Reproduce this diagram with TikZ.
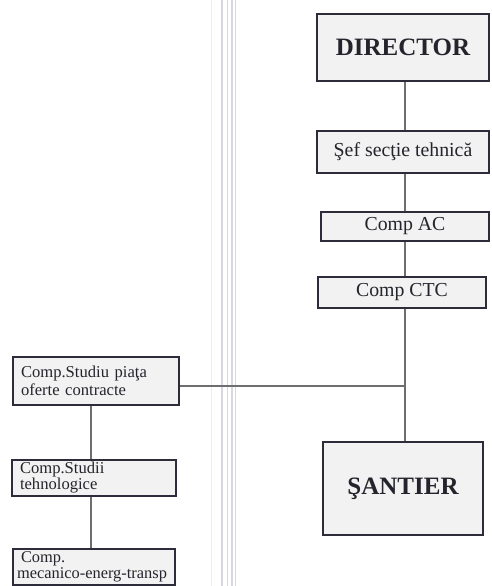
\documentclass[tikz,border=0pt]{standalone}
\usepackage{fontspec}
\setmainfont{Liberation Serif}
\definecolor{boxline}{RGB}{44,44,58}
\definecolor{boxfill}{RGB}{242,242,242}
\definecolor{conn}{RGB}{110,110,110}
\definecolor{ink}{RGB}{36,36,44}
\definecolor{gutter}{RGB}{216,216,224}
\definecolor{gutterlight}{RGB}{236,236,242}
\tikzset{
  orgbox/.style={draw=boxline, line width=2.8pt, fill=boxfill, text=ink, inner sep=0pt},
  bigbox/.style={orgbox, font=\fontsize{25}{27}\selectfont\bfseries},
  midbox/.style={orgbox, font=\fontsize{19.8}{21}\selectfont},
  leftbox/.style={orgbox, align=left, inner xsep=8pt, font=\fontsize{16.6}{18}\selectfont},
  link/.style={draw=conn, line width=1.4pt},
  gline/.style={draw=gutter, line width=1.6pt},
}
\begin{document}
\begin{tikzpicture}[x=1pt,y=-1pt]
\useasboundingbox (0,0) rectangle (491,586);
% book gutter lines of the scan
\draw[draw=gutterlight, line width=1pt] (211,0) -- (211,586);
\draw[gline] (222,0) -- (222,586);
\draw[gline] (227.5,0) -- (227.5,586);
\draw[gline] (232,0) -- (232,586);
\draw[gline] (235.5,0) -- (235.5,586);
% junction points
\coordinate (j) at (405,386);
\coordinate (k) at (91,386);
% right column
\node[bigbox, minimum width=172pt, minimum height=67pt] (dir) at (403,47.5) {DIRECTOR};
\node[midbox, minimum width=172pt, minimum height=42pt] (sef) at (403,152) {Şef secţie tehnică};
\node[midbox, minimum width=168pt, minimum height=29pt] (ac) at (405,226.5) {Comp AC};
\node[midbox, minimum width=168pt, minimum height=31pt] (ctc) at (402,292.5) {Comp CTC};
\node[bigbox, minimum width=160pt, minimum height=93pt] (sant) at (403,488.5) {ŞANTIER};
% left column
\node[leftbox, text width=150pt, minimum height=48pt] (b1) at (96,381)
  {Comp.Studiu piaţa\\oferte contracte};
\node[leftbox, text width=148pt, minimum height=36pt, font=\fontsize{16.6}{14}\selectfont] (b2) at (94,478)
  {Comp.Studii\\tehnologice};
\node[leftbox, inner xsep=4pt, text width=154pt, minimum height=36pt, font=\fontsize{16.4}{12.5}\selectfont] (b3) at (94,567)
  {\hspace*{4pt}Comp.\\mecanico-energ-transp};
% connectors
\draw[link] (dir.south -| j) -- (sef.north -| j);
\draw[link] (sef.south -| j) -- (ac.north -| j);
\draw[link] (ac.south -| j) -- (ctc.north -| j);
\draw[link] (ctc.south -| j) -- (sant.north -| j);
\draw[link] (b1.east |- j) -- (j);
\draw[link] (b1.south -| k) -- (b2.north -| k);
\draw[link] (b2.south -| k) -- (b3.north -| k);
\end{tikzpicture}
\end{document}
